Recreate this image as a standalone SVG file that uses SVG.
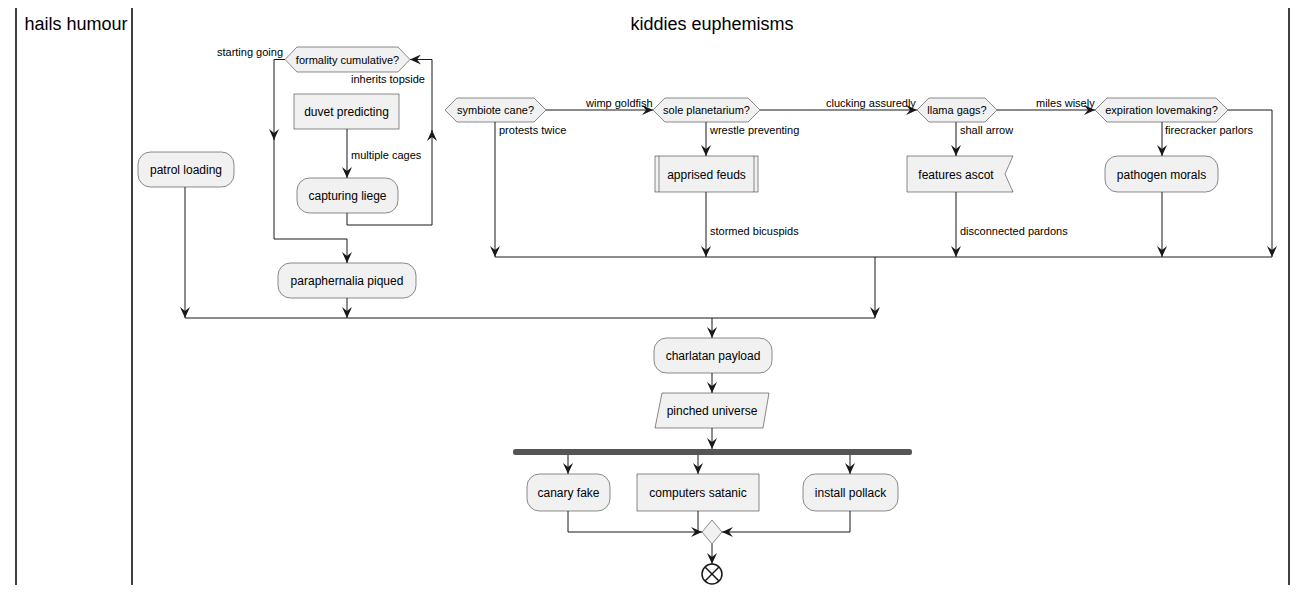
<svg xmlns="http://www.w3.org/2000/svg" width="1306" height="595" viewBox="0 0 1306 595">
<defs>
<marker id="ah" viewBox="0 0 12 10" refX="11" refY="5" markerWidth="12" markerHeight="10" markerUnits="userSpaceOnUse" orient="auto">
<path d="M0,0 L11,5 L0,10 L4,5 Z" fill="#181818"/>
</marker>
</defs>
<style>
text{font-family:"Liberation Sans",Arial,sans-serif;fill:#000}
.t{font-size:12px;text-anchor:middle}
.d{font-size:11px;text-anchor:middle}
.l{font-size:11px}
.h{font-size:18px;text-anchor:middle}
.n{fill:#F1F1F1;stroke:#181818;stroke-width:0.5}
.c{fill:none;stroke:#181818;stroke-width:1}
.a{marker-end:url(#ah)}
.lane{stroke:#000;stroke-width:1.5}
</style>
<rect width="1306" height="595" fill="#fff"/>
<g id="lanes">
<line class="lane" x1="16" y1="8" x2="16" y2="585"/>
<line class="lane" x1="132" y1="8" x2="132" y2="585"/>
<line class="lane" x1="1289" y1="8" x2="1289" y2="585"/>
<text class="h" x="76" y="30">hails humour</text>
<text class="h" x="712" y="30">kiddies euphemisms</text>
</g>
<g id="connectors">
<path class="c a" d="M285,59.5 H274 V140"/>
<path class="c a" d="M274,135 V239 H347 V263"/>
<path class="c a" d="M347,129 V178"/>
<path class="c a" d="M347,213 V225 H432 V130"/>
<path class="c a" d="M432,135 V59.5 H410"/>
<path class="c a" d="M185,187 V318"/>
<path class="c a" d="M347,298 V318"/>
<line class="c" x1="185" y1="318" x2="875" y2="318"/>
<path class="c a" d="M546,110 H653"/>
<path class="c a" d="M760,110 H917"/>
<path class="c a" d="M997,110 H1095"/>
<path class="c a" d="M1228,110 H1272 V257"/>
<path class="c a" d="M495,122 V257"/>
<path class="c a" d="M706,122 V156"/>
<path class="c a" d="M706,192 V257"/>
<path class="c a" d="M956,122 V156"/>
<path class="c a" d="M956,192 V257"/>
<path class="c a" d="M1162,122 V156"/>
<path class="c a" d="M1162,192 V257"/>
<line class="c" x1="495" y1="257" x2="1272" y2="257"/>
<path class="c a" d="M875,257 V318"/>
<path class="c a" d="M712,318 V338"/>
<path class="c a" d="M712,373 V393"/>
<path class="c a" d="M712,428 V449"/>
<path class="c a" d="M568,455 V474"/>
<path class="c a" d="M698,455 V474"/>
<path class="c a" d="M850,455 V474"/>
<path class="c a" d="M568,511 V532 H702"/>
<path class="c" d="M698,511 V532"/>
<path class="c a" d="M850,511 V532 H722"/>
<path class="c a" d="M712,544 V564"/>
<text class="l" x="283" y="56" text-anchor="end">starting going</text>
<text class="l" x="351" y="83">inherits topside</text>
<text class="l" x="351" y="159">multiple cages</text>
<text class="l" x="586" y="107">wimp goldfish</text>
<text class="l" x="826" y="107">clucking assuredly</text>
<text class="l" x="1036" y="107">miles wisely</text>
<text class="l" x="499" y="134">protests twice</text>
<text class="l" x="710" y="134">wrestle preventing</text>
<text class="l" x="960" y="134">shall arrow</text>
<text class="l" x="1165" y="134">firecracker parlors</text>
<text class="l" x="710" y="235">stormed bicuspids</text>
<text class="l" x="960" y="235">disconnected pardons</text>
</g>
<g id="formality">
<polygon class="n" points="285,59.5 297,47 398,47 410,59.5 398,72 297,72"/>
<text class="d" x="347.5" y="63.5">formality cumulative?</text>
</g>
<g id="duvet">
<rect class="n" x="294" y="94" width="105" height="35"/>
<text class="t" x="346.5" y="116">duvet predicting</text>
</g>
<g id="capturing">
<rect class="n" x="297" y="178" width="101" height="35" rx="12.5"/>
<text class="t" x="347.5" y="200">capturing liege</text>
</g>
<g id="patrol">
<rect class="n" x="138" y="152" width="96" height="35" rx="12.5"/>
<text class="t" x="186" y="174">patrol loading</text>
</g>
<g id="paraphernalia">
<rect class="n" x="278" y="263" width="138" height="35" rx="12.5"/>
<text class="t" x="347" y="285">paraphernalia piqued</text>
</g>
<g id="symbiote">
<polygon class="n" points="445,110 457,98 534,98 546,110 534,122 457,122"/>
<text class="d" x="495.5" y="114">symbiote cane?</text>
</g>
<g id="sole">
<polygon class="n" points="653,110 665,98 748,98 760,110 748,122 665,122"/>
<text class="d" x="706.5" y="114">sole planetarium?</text>
</g>
<g id="llama">
<polygon class="n" points="917,110 929,98 985,98 997,110 985,122 929,122"/>
<text class="d" x="957" y="114">llama gags?</text>
</g>
<g id="expiration">
<polygon class="n" points="1095,110 1107,98 1216,98 1228,110 1216,122 1107,122"/>
<text class="d" x="1161.5" y="114">expiration lovemaking?</text>
</g>
<g id="apprised">
<rect class="n" x="655" y="156" width="103" height="36"/>
<line class="n" x1="659" y1="156" x2="659" y2="192"/>
<line class="n" x1="754" y1="156" x2="754" y2="192"/>
<text class="t" x="706.5" y="178.5">apprised feuds</text>
</g>
<g id="features">
<polygon class="n" points="907,156 1013,156 1005,174 1013,192 907,192"/>
<text class="t" x="956" y="178.5">features ascot</text>
</g>
<g id="pathogen">
<rect class="n" x="1105" y="156" width="113" height="36" rx="12.5"/>
<text class="t" x="1161.5" y="178.5">pathogen morals</text>
</g>
<g id="charlatan">
<rect class="n" x="654" y="338" width="118" height="35" rx="12.5"/>
<text class="t" x="713" y="360">charlatan payload</text>
</g>
<g id="pinched">
<polygon class="n" points="662,393 769,393 763,428 655,428"/>
<text class="t" x="712" y="415">pinched universe</text>
</g>
<g id="fork">
<rect x="513" y="449" width="399" height="6" rx="2.5" fill="#555555"/>
</g>
<g id="canary">
<rect class="n" x="527" y="474" width="83" height="37" rx="12.5"/>
<text class="t" x="568.5" y="497">canary fake</text>
</g>
<g id="computers">
<rect class="n" x="637" y="474" width="122" height="37"/>
<text class="t" x="698" y="497">computers satanic</text>
</g>
<g id="install">
<rect class="n" x="803" y="474" width="95" height="37" rx="12.5"/>
<text class="t" x="850.5" y="497">install pollack</text>
</g>
<g id="merge">
<polygon class="n" points="702,532 712,520 722,532 712,544"/>
</g>
<g id="end">
<circle cx="712" cy="574" r="10" fill="#fff" stroke="#181818" stroke-width="1.5"/>
<line x1="705" y1="567" x2="719" y2="581" stroke="#181818" stroke-width="1.5"/>
<line x1="719" y1="567" x2="705" y2="581" stroke="#181818" stroke-width="1.5"/>
</g>
</svg>
